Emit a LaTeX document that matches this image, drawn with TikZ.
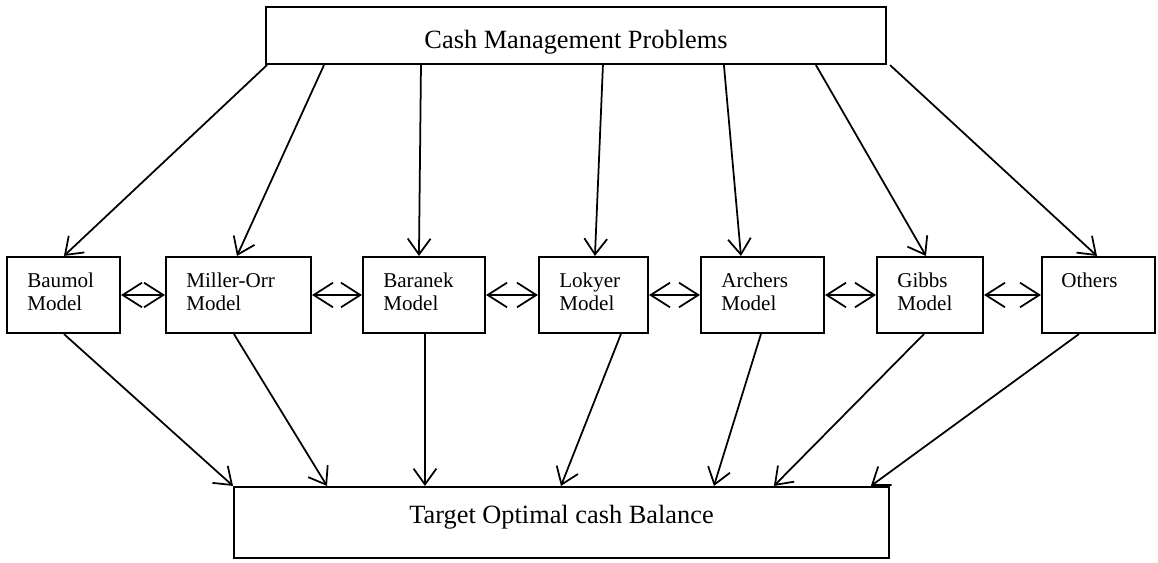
\documentclass[tikz,border=0pt]{standalone}
\usepackage{fontspec}
\setmainfont{Liberation Serif}
\usetikzlibrary{arrows.meta}
\begin{document}
\begin{tikzpicture}[x=0.02cm,y=-0.02cm,
  box/.style={draw, line width=1.2pt, inner sep=0pt, rectangle},
  mtext/.style={font=\fontsize{12}{13}\selectfont, align=left, anchor=north west, inner sep=0pt},
  bigtext/.style={font=\fontsize{15}{18}\selectfont, anchor=base, inner sep=0pt},
  arr/.style={line width=1pt, -{Straight Barb[length=9pt,width=13pt,line width=1pt]}},
  darr/.style={line width=1pt, {Straight Barb[length=11pt,width=14pt,line width=1pt]}-{Straight Barb[length=11pt,width=14pt,line width=1pt]}}
]
\useasboundingbox (0,0) rectangle (1158,563);

% boxes
\node[box, minimum width=12.4cm, minimum height=1.14cm] (top) at (576,35.5) {};
\node[box, minimum width=13.1cm, minimum height=1.42cm] (bottom) at (561.5,522.5) {};
\node[box, minimum width=2.26cm, minimum height=1.52cm] (baumol) at (63.5,295) {};
\node[box, minimum width=2.9cm, minimum height=1.52cm] (miller) at (238.5,295) {};
\node[box, minimum width=2.44cm, minimum height=1.52cm] (baranek) at (424,295) {};
\node[box, minimum width=2.18cm, minimum height=1.52cm] (lokyer) at (593.5,295) {};
\node[box, minimum width=2.46cm, minimum height=1.52cm] (archers) at (762.5,295) {};
\node[box, minimum width=2.12cm, minimum height=1.52cm] (gibbs) at (930,295) {};
\node[box, minimum width=2.26cm, minimum height=1.52cm] (others) at (1098.5,295) {};

% texts
\node[bigtext] (topT) at ([yshift=-0.26cm]top.center) {Cash Management Problems};
\node[bigtext] (bottomT) at ([yshift=-0.01cm]bottom.center) {Target Optimal cash Balance};
\node[mtext] (baumolT) at ([xshift=0.42cm,yshift=-0.33cm]baumol.north west) {Baumol\\Model};
\node[mtext] (millerT) at ([xshift=0.42cm,yshift=-0.33cm]miller.north west) {Miller-Orr\\Model};
\node[mtext] (baranekT) at ([xshift=0.42cm,yshift=-0.33cm]baranek.north west) {Baranek\\Model};
\node[mtext] (lokyerT) at ([xshift=0.42cm,yshift=-0.33cm]lokyer.north west) {Lokyer\\Model};
\node[mtext] (archersT) at ([xshift=0.42cm,yshift=-0.33cm]archers.north west) {Archers\\Model};
\node[mtext] (gibbsT) at ([xshift=0.42cm,yshift=-0.33cm]gibbs.north west) {Gibbs\\Model};
\node[mtext] (othersT) at ([xshift=0.40cm,yshift=-0.33cm]others.north west) {Others};

% top arrows
\draw[arr] ([xshift=0.04cm]top.south west) -- ([xshift=1.16cm]baumol.north west);
\draw[arr] ([xshift=1.18cm]top.south west) -- ([xshift=1.44cm]miller.north west);
\draw[arr] ([xshift=3.12cm]top.south west) -- ([xshift=1.14cm]baranek.north west);
\draw[arr] ([xshift=6.76cm]top.south west) -- ([xshift=1.14cm]lokyer.north west);
\draw[arr] ([xshift=9.18cm]top.south west) -- ([xshift=0.82cm]archers.north west);
\draw[arr] ([xshift=11.02cm]top.south west) -- ([xshift=1.0cm]gibbs.north west);
\draw[arr] ([xshift=0.06cm]top.south east) -- ([xshift=1.12cm]others.north west);

% bottom arrows
\draw[arr] ([xshift=1.16cm]baumol.south west) -- (bottom.north west);
\draw[arr] ([xshift=1.38cm]miller.south west) -- ([xshift=1.88cm]bottom.north west);
\draw[arr] ([xshift=1.26cm]baranek.south west) -- ([xshift=3.84cm]bottom.north west);
\draw[arr] ([xshift=1.66cm]lokyer.south west) -- ([xshift=6.56cm]bottom.north west);
\draw[arr] ([xshift=1.22cm]archers.south west) -- ([xshift=9.62cm]bottom.north west);
\draw[arr] ([xshift=0.96cm]gibbs.south west) -- ([xshift=10.82cm]bottom.north west);
\draw[arr] ([xshift=0.76cm]others.south west) -- ([xshift=12.76cm]bottom.north west);

% double arrows
\draw[darr] (baumol.east) -- (miller.west);
\draw[darr] (miller.east) -- (baranek.west);
\draw[darr] (baranek.east) -- (lokyer.west);
\draw[darr] (lokyer.east) -- (archers.west);
\draw[darr] (archers.east) -- (gibbs.west);
\draw[darr] (gibbs.east) -- (others.west);
\end{tikzpicture}
\end{document}
